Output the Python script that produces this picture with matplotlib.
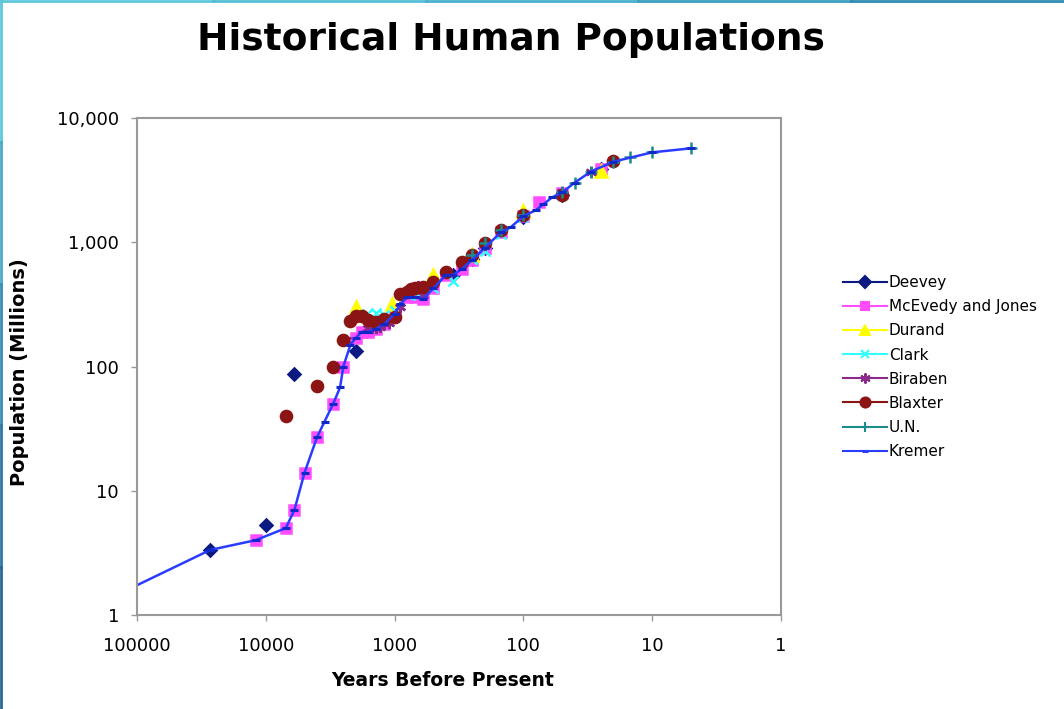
import matplotlib
matplotlib.use("Agg")
import matplotlib.pyplot as plt
from matplotlib.lines import Line2D

# years before present (present = 2000) and population in millions
deevey_years = [27000, 10000, 6000, 2000, 350, 250, 200, 100, 50, 25]
deevey_pop = [3.34, 5.32, 86.5, 133, 545, 728, 906, 1610, 2400, 3900]

mcevedy_years = [12000, 7000, 6000, 5000, 4000, 3000, 2500, 2000, 1800, 1600,
                 1400, 1200, 1000, 800, 700, 600, 500, 400, 300, 250, 200,
                 150, 100, 75, 50, 25]
mcevedy_pop = [4, 5, 7, 14, 27, 50, 100, 170, 190, 190, 200, 220, 265, 360,
               360, 350, 425, 545, 610, 720, 900, 1200, 1625, 2100, 2500, 3900]

durand_years = [2000, 1050, 500, 250, 100, 25]
durand_pop = [300, 320, 545, 790, 1800, 3750]

clark_years = [2000, 1650, 1400, 1200, 1000, 800, 660, 500, 350, 250, 200,
               150, 100, 50]
clark_pop = [256, 265, 270, 261, 280, 384, 378, 427, 490, 731, 850, 1171,
             1608, 2400]

biraben_years = [2400, 2200, 2000, 1800, 1600, 1500, 1400, 1300, 1200, 1100,
                 1000, 900, 800, 750, 700, 660, 600, 500, 400, 300, 250, 200,
                 150, 100, 50, 30]
biraben_pop = [162, 231, 255, 256, 206, 206, 206, 207, 224, 226, 254, 301,
               400, 416, 432, 443, 374, 460, 579, 679, 770, 954, 1241, 1633,
               2527, 3700]

blaxter_years = [7000, 4000, 3000, 2500, 2200, 2000, 1800, 1600, 1400, 1200,
                 1000, 900, 800, 750, 700, 600, 500, 400, 300, 250, 200, 150,
                 100, 50, 20]
blaxter_pop = [40, 70, 100, 162, 231, 255, 256, 235, 230, 240, 250, 380, 400,
               420, 430, 440, 480, 575, 690, 790, 980, 1250, 1660, 2400, 4500]

un_years = [250, 200, 150, 100, 50, 40, 30, 20, 15, 10, 5]
un_pop = [791, 978, 1262, 1650, 2519, 3020, 3700, 4450, 4850, 5300, 5700]

kremer_years = [302000, 27000, 12000, 7000, 6000, 5000, 4000, 3500, 3000,
                2650, 2500, 2200, 2000, 1800, 1600, 1400, 1200, 1000, 900,
                800, 700, 600, 500, 400, 350, 300, 250, 200, 150, 125, 100,
                80, 70, 60, 50, 40, 30, 20, 10, 5]
kremer_pop = [1, 3.34, 4, 5, 7, 14, 27, 36, 50, 68, 100, 150, 170, 190, 190,
              200, 220, 265, 320, 360, 360, 350, 425, 545, 545, 610, 720, 900,
              1200, 1325, 1625, 1813, 2020, 2295, 2516, 3020, 3698, 4448,
              5292, 5700]

x_ticks = [100000, 10000, 1000, 100, 10, 1]
x_labels = ["100000", "10000", "1000", "100", "10", "1"]
y_ticks = [1, 10, 100, 1000, 10000]
y_labels = ["1", "10", "100", "1,000", "10,000"]

series = [
    ("Deevey", deevey_years, deevey_pop, "#0a1a80", "D", 6.5),
    ("McEvedy and Jones", mcevedy_years, mcevedy_pop, "#ff4dff", "s", 7),
    ("Durand", durand_years, durand_pop, "#ffff00", "^", 8),
    ("Clark", clark_years, clark_pop, "#33ffff", "x", 7),
    ("Biraben", biraben_years, biraben_pop, "#8a2a8a", (6, 2, 0), 8),
    ("Blaxter", blaxter_years, blaxter_pop, "#8b1414", "o", 8),
    ("U.N.", un_years, un_pop, "#1a8c8c", "+", 8),
]

fig = plt.figure(figsize=(10.64, 7.09), dpi=100)
ax = fig.add_axes([137 / 1064, 1 - 615 / 709, 644 / 1064, 497 / 709])

handles = []
for name, xs, ys, col, mk, ms in series:
    ax.plot(xs, ys, linestyle="none", marker=mk, markersize=ms, color=col,
            markeredgecolor=col, markeredgewidth=1.8)
    handles.append(Line2D([], [], color=col, lw=1.5, marker=mk,
                          markersize=ms * 0.9, markeredgewidth=1.5,
                          label=name))

kremer_col = "#2a3cff"
ax.plot(kremer_years, kremer_pop, color=kremer_col, lw=1.8, marker="_",
        markersize=6, markeredgewidth=2.2, markeredgecolor="#1028c8")
handles.append(Line2D([], [], color=kremer_col, lw=1.5, marker="_",
                      markersize=5, markeredgewidth=2.2, label="Kremer"))

ax.set_xscale("log")
ax.set_yscale("log")
ax.set_xlim(100000, 1)
ax.set_ylim(1, 10000)
ax.set_xticks(x_ticks)
ax.set_xticklabels(x_labels)
ax.set_yticks(y_ticks)
ax.set_yticklabels(y_labels)
ax.minorticks_off()
ax.tick_params(axis="both", direction="out", length=4, width=1,
               color="#999999", labelsize=13)
ax.tick_params(axis="x", pad=12)
ax.tick_params(axis="y", pad=9)
for sp in ax.spines.values():
    sp.set_color("#9a9a9a")
    sp.set_linewidth(1.5)

fig.text(511 / 1064, 1 - 40 / 709, "Historical Human Populations",
         ha="center", va="center", fontsize=27, fontweight="bold")
fig.text(20 / 1064, 1 - 372 / 709, "Population (Millions)", rotation=90,
         ha="center", va="center", fontsize=14, fontweight="bold")
fig.text(443 / 1064, 1 - 681 / 709, "Years Before Present",
         ha="center", va="center", fontsize=13.5, fontweight="bold")

fig.legend(handles=handles, loc="upper left",
           bbox_to_anchor=(843 / 1064, 1 - 275 / 709),
           bbox_transform=fig.transFigure, frameon=False, fontsize=11,
           handlelength=2.9, handletextpad=0.1, labelspacing=0.6,
           borderpad=0, borderaxespad=0)

# slide frame on left and top edge
left_cols = ["#5fc6dc", "#4aaac8", "#3a8db5", "#2f78a4", "#2a6795"]
n = len(left_cols)
for i, c in enumerate(left_cols):
    fig.add_artist(Line2D([0.001, 0.001], [1 - i / n, 1 - (i + 1) / n],
                          color=c, lw=2, transform=fig.transFigure))
top_cols = ["#5fc6dc", "#55bdd6", "#48b0cc", "#3a9fc0", "#2f8db2"]
for i, c in enumerate(top_cols):
    fig.add_artist(Line2D([i / n, (i + 1) / n], [0.998, 0.998],
                          color=c, lw=2, transform=fig.transFigure))

fig.savefig("out.png", dpi=100)
